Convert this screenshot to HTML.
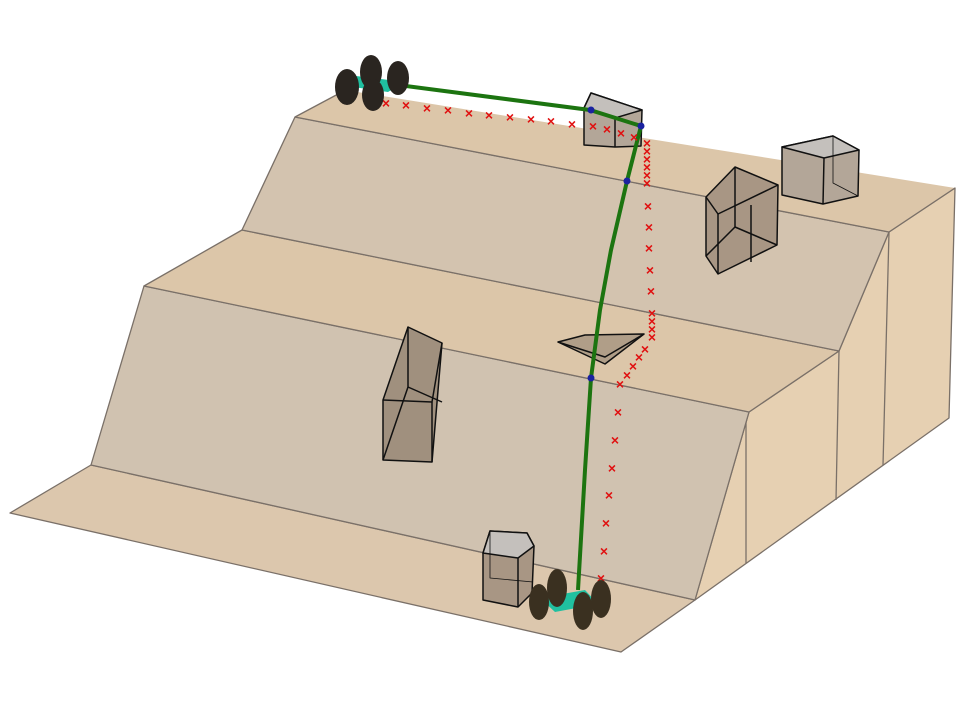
<!DOCTYPE html>
<html><head><meta charset="utf-8"><style>html,body{margin:0;padding:0;background:#fff}svg{display:block}</style></head>
<body>
<svg width="966" height="711" viewBox="0 0 966 711" xmlns="http://www.w3.org/2000/svg">
<g stroke="#7a7068" stroke-width="1.3" stroke-linejoin="round">
<polygon points="695,600 749,412 839,351 889,232 955,188 949,418" fill="#e6d0b2"/>
<line x1="746" y1="412" x2="746" y2="563"/>
<line x1="839" y1="351" x2="836" y2="500"/>
<line x1="889" y1="232" x2="883" y2="465"/>
<polygon points="10,513 91,465 695,600 621,652" fill="#dcc7ad"/>
<polygon points="91,465 144,286 749,412 695,600" fill="#d0c2b0"/>
<polygon points="144,286 242,230 839,351 749,412" fill="#dcc6a9"/>
<polygon points="242,230 295,117 889,232 839,351" fill="#d3c3af"/>
<polygon points="295,117 345,90 955,188 889,232" fill="#dcc6a9" stroke="none"/>
<polyline points="295,117 889,232 955,188" fill="none"/>
<line x1="295" y1="117" x2="340" y2="93"/>
</g>
<g stroke="#111" stroke-width="1.5" stroke-linejoin="round" fill="#a89a88">
<polygon points="383,400 408,327 442,343 432,462 383,460" fill="#a0907e"/>
<polyline points="383,400 432,402 442,343" fill="none"/>
<line x1="432" y1="402" x2="432" y2="462"/>
<polyline points="408,327 408,387 383,460" fill="none"/>
<line x1="408" y1="387" x2="442" y2="402"/>
<polygon points="706,197 735,167 778,185 777,245 718,274 706,256" fill="#a89684"/>
<polyline points="706,197 718,214 778,185" fill="none"/>
<line x1="718" y1="214" x2="718" y2="274"/>
<polyline points="735,167 735,227 706,256" fill="none"/>
<line x1="735" y1="227" x2="777" y2="245"/>
<line x1="751" y1="205" x2="751" y2="262"/>
<polygon points="782,147 833,136 859,150 858,196 823,204 782,195" fill="#b3a698"/>
<polygon points="782,147 833,136 859,150 824,158" fill="#c4c0bc"/>
<line x1="824" y1="158" x2="823" y2="204"/>
<polyline points="833,136 833,183 858,196" fill="none" stroke-width="0.8"/>
<polygon points="584,108 591,93 642,110 641,146 615,147 584,145" fill="#b3a698"/>
<polygon points="584,108 591,93 642,110 615,118" fill="#c4c0bc"/>
<line x1="615" y1="118" x2="615" y2="147"/>
<polygon points="558,342 585,335 644,334 605,364" fill="#b09e88"/>
<polyline points="558,342 605,357 644,334" fill="none"/>
<polygon points="483,553 490,531 527,533 534,546 532,593 518,607 483,600" fill="#a89684"/>
<polygon points="483,553 490,531 527,533 534,546 518,558" fill="#c4c0bc"/>
<line x1="518" y1="558" x2="518" y2="607"/>
<polyline points="490,531 490,578 533,582" fill="none" stroke-width="0.8"/>
</g>
<polyline points="360,80 590,110 641,126 627,181 611,250 600,310 591,378 585,470 578,590" fill="none" stroke="#1c7410" stroke-width="4"/>
<g fill="#1a22a0"><circle cx="591" cy="110" r="3.5"/><circle cx="641" cy="126" r="3.5"/><circle cx="627" cy="181" r="3.5"/><circle cx="591" cy="378" r="3.5"/></g>
<g fill="#e01010" font-family="Liberation Sans, sans-serif" font-size="14" font-weight="bold" text-anchor="middle">
<text x="386" y="108">×</text><text x="406" y="110">×</text><text x="427" y="113">×</text><text x="448" y="115">×</text><text x="469" y="118">×</text><text x="489" y="120">×</text><text x="510" y="122">×</text><text x="531" y="124">×</text><text x="551" y="126">×</text><text x="572" y="129">×</text><text x="593" y="131">×</text><text x="607" y="134">×</text><text x="621" y="138">×</text><text x="634" y="142">×</text><text x="647" y="148">×</text><text x="647" y="156">×</text><text x="647" y="164">×</text><text x="647" y="172">×</text><text x="647" y="180">×</text><text x="647" y="188">×</text><text x="648" y="211">×</text><text x="649" y="232">×</text><text x="649" y="253">×</text><text x="650" y="275">×</text><text x="651" y="296">×</text><text x="652" y="318">×</text><text x="652" y="326">×</text><text x="652" y="334">×</text><text x="652" y="342">×</text><text x="645" y="354">×</text><text x="639" y="362">×</text><text x="633" y="371">×</text><text x="627" y="380">×</text><text x="620" y="389">×</text><text x="618" y="417">×</text><text x="615" y="445">×</text><text x="612" y="473">×</text><text x="609" y="500">×</text><text x="606" y="528">×</text><text x="604" y="556">×</text><text x="601" y="583">×</text>
</g>
<g fill="#2a2520">
<polygon points="356,76 405,82 388,92 346,86" fill="#20c0a0"/>
<ellipse cx="347" cy="87" rx="12" ry="18"/><ellipse cx="371" cy="72" rx="11" ry="17"/><ellipse cx="373" cy="95" rx="11" ry="16"/><ellipse cx="398" cy="78" rx="11" ry="17"/>
<polygon points="540,598 585,590 598,604 555,612" fill="#20c0a0"/>
<ellipse cx="539" cy="602" rx="10" ry="18" fill="#3a3020"/><ellipse cx="557" cy="588" rx="10" ry="19" fill="#3a3020"/><ellipse cx="583" cy="611" rx="10" ry="19" fill="#3a3020"/><ellipse cx="601" cy="599" rx="10" ry="19" fill="#3a3020"/>
</g>
</svg>
</body></html>
